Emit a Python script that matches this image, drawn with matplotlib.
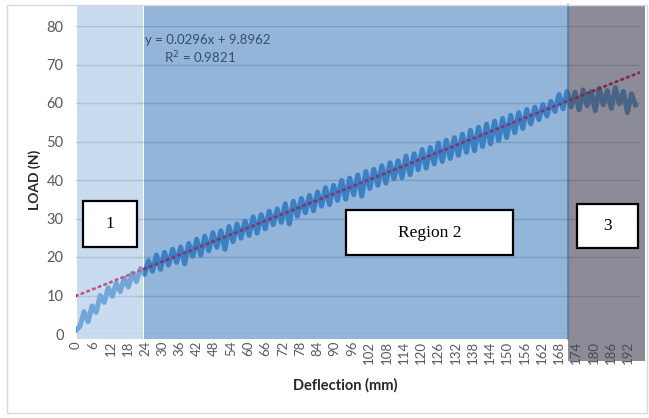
import numpy as np
import matplotlib
matplotlib.use('Agg')
import matplotlib.pyplot as plt
from matplotlib.patches import Rectangle

load = [1.0, 2.0, 5.8, 3.2, 7.3, 5.6, 10.0, 8.2, 12.0, 9.8,
        13.2, 11.0, 14.5, 12.2, 15.8, 13.6, 17.0, 15.5, 19.0, 16.3,
        20.5, 16.8, 21.2, 17.9, 22.0, 18.6, 22.6, 18.2, 23.5, 20.2,
        24.6, 20.5, 25.4, 21.6, 26.3, 22.5, 26.8, 22.0, 27.9, 24.0,
        28.6, 24.9, 29.3, 25.6, 30.4, 26.2, 31.0, 27.3, 31.9, 28.4,
        32.5, 29.0, 33.8, 28.6, 34.5, 30.6, 35.2, 31.5, 36.0, 32.0,
        36.9, 33.2, 38.0, 33.6, 38.6, 34.7, 39.9, 35.0, 40.5, 36.2,
        41.3, 35.8, 42.2, 37.8, 42.8, 38.6, 43.7, 39.2, 44.5, 40.3,
        45.0, 40.6, 46.2, 41.4, 46.8, 42.7, 47.9, 43.1, 48.4, 44.2,
        49.6, 44.8, 50.3, 45.6, 51.0, 46.4, 51.9, 47.2, 52.9, 47.6,
        53.7, 48.7, 54.5, 49.4, 55.3, 50.2, 56.0, 51.0, 56.8, 52.3,
        57.5, 53.4, 58.3, 54.6, 58.9, 55.7, 59.6, 56.6, 60.4, 57.8,
        62.2, 58.5, 63.0, 59.0, 62.8, 58.2, 63.4, 59.3, 63.0, 58.0,
        63.8, 59.5, 63.2, 58.6, 64.0, 59.8, 63.0, 57.5, 62.4, 59.5]
deflection = np.linspace(0, 194.6, len(load))

# Excel linear trendline (x = point index, 0.1 mm per point)
trend_slope = 0.0296
trend_intercept = 9.8962
trend_x = np.array([0, 196])

xticks = list(range(0, 193, 6))
yticks = list(range(0, 81, 10))

W, H = 649, 418
fig = plt.figure(figsize=(W / 100, H / 100), dpi=100)
plt.rcParams['font.family'] = ['Lato', 'DejaVu Sans']


def fx(x):
    return x / W


def fy(y):
    return 1 - y / H


# chart border
fig.add_artist(Rectangle((fx(7), fy(413)), fx(640), (413 - 5) / H, transform=fig.transFigure,
                         fill=False, edgecolor='#d9d9d9', lw=1))

ax = fig.add_axes([fx(76), 84 / H, 563.5 / W, 308 / H])
ax.set_xlim(0, 196)
ax.set_ylim(0, 80)
for s in ax.spines.values():
    s.set_visible(False)
ax.set_yticks(yticks)
ax.set_xticks(xticks)
ax.set_xticklabels([str(t) for t in xticks], rotation=90, fontsize=9.5, color='#595959')
ax.set_yticklabels([str(t) for t in yticks], fontsize=10.5, color='#595959')
ax.tick_params(length=0)
ax.tick_params(axis='x', pad=5)
ax.tick_params(axis='y', pad=9)
ax.grid(axis='y', color='#d0d0d0', lw=1)
ax.set_axisbelow(True)

ax.plot(deflection, load, color='#5B9BD5', lw=3.6, solid_joinstyle='round', zorder=2)
ax.plot(trend_x, trend_slope * trend_x * 10 + trend_intercept, color='#E0103C', lw=2.0,
        linestyle=(0, (0.6, 1.6)), dash_capstyle='round', zorder=2.2)

# shaded regions drawn over the chart
ax.add_patch(Rectangle((0.2, -1.2), 23.0, 86.7, facecolor='#8AB3DD', alpha=0.47,
                       lw=0, clip_on=False, zorder=3))
ax.add_patch(Rectangle((23.8, -1.2), 147.3, 86.7, facecolor='#1A62B1', alpha=0.47,
                       lw=0, clip_on=False, zorder=3))
ax.add_patch(Rectangle((171.1, -7.0), 26.8, 92.5, facecolor='#3E3F53', alpha=0.6,
                       lw=0, clip_on=False, zorder=3))
ax.plot([171.1, 171.1], [-1.2, 85.5], color='#3f6ea8', lw=1.5, alpha=0.6,
        clip_on=False, zorder=3.1)

# trendline label
fig.text(fx(208), fy(40), 'y = 0.0296x + 9.8962', ha='center', va='center',
         fontsize=9.5, color='#34506e')
fig.text(fx(200), fy(58), 'R$^2$ = 0.9821', ha='center', va='center',
         fontsize=9.5, color='#34506e')

# region boxes
boxes = [(83, 201, 137, 247, '1'), (346, 210, 513, 255, 'Region 2'), (577, 204, 638, 248, '3')]
for x0, y0, x1, y1, label in boxes:
    fig.add_artist(Rectangle((fx(x0), fy(y1)), (x1 - x0) / W, (y1 - y0) / H,
                             transform=fig.transFigure, facecolor='white',
                             edgecolor='black', lw=1.6, zorder=10))
    fig.text(fx((x0 + x1) / 2), fy((y0 + y1) / 2), label, ha='center', va='center',
             fontsize=12.5, family='Liberation Serif', color='black', zorder=11)

fig.text(fx(345), fy(385), 'Deflection (mm)', ha='center', va='center',
         fontsize=10.5, fontweight='bold', color='#262626')
fig.text(fx(35), fy(180), 'LOAD (N)', ha='center', va='center', rotation=90,
         fontsize=10, fontweight='bold', color='#262626')

fig.savefig('out.png', dpi=100)
